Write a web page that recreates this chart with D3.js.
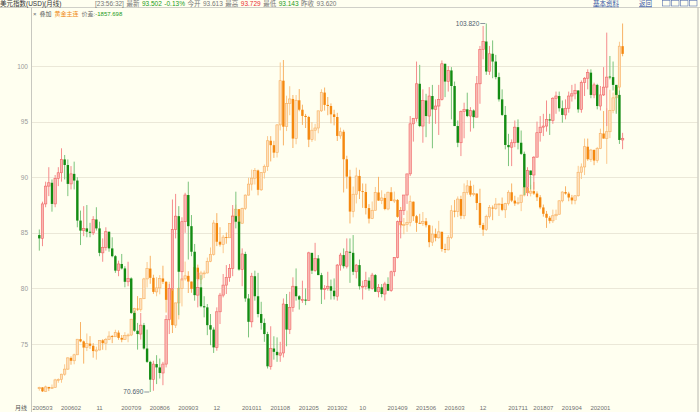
<!DOCTYPE html>
<html><head><meta charset="utf-8">
<script src="https://cdn.jsdelivr.net/npm/d3@7/dist/d3.min.js"></script>
<style>
html,body{margin:0;padding:0;background:#fffff0;}
svg{display:block;font-family:"Liberation Sans","Noto Sans CJK SC",sans-serif;}
</style></head><body>
<svg id="chart" width="700" height="412"></svg>
<script>
// ---- US Dollar Index monthly candles, 2005-04 .. 2020-08 ----
const usdO = [84.8,84.5,87.6,89.2,89.5,87.6,89.9,90.4,91.6,
91.1,89.4,90.3,89.7,86.1,85.2,85.4,85.1,85.0,86.2,85.4,83.2,
83.7,85.1,83.6,82.9,81.6,82.2,81.8,80.6,80.9,77.8,76.2,75.9,
76.7,74.6,73.4,71.8,73.2,72.9,72.4,73.2,77.2,80.0,85.3,86.5,
81.5,86.0,88.4,85.6,83.3,79.4,80.1,78.4,78.3,76.7,76.3,74.7,
77.9,79.4,80.3,81.0,81.8,86.5,86.0,81.7,83.1,79.1,77.0,81.1,
79.3,77.7,76.9,75.9,73.0,74.6,74.3,74.0,74.2,78.6,76.3,78.3,
80.2,79.3,79.0,79.0,78.9,83.2,81.6,82.7,81.2,79.9,80.0,80.2,
79.8,79.3,82.1,83.0,82.0,83.3,83.2,81.5,82.1,80.2,80.2,80.7,
80.0,81.2,79.7,80.1,79.5,80.4,79.8,81.5,82.8,86.0,87.0,88.4,
90.3,94.8,95.3,98.4,94.6,96.9,95.5,97.3,96.1,96.4,97.0,100.2,
98.6,99.6,98.2,94.6,93.1,95.9,96.1,95.5,96.0,95.4,98.4,101.5,
102.2,99.5,101.1,100.4,99.0,97.0,95.6,92.9,92.7,93.1,94.5,93.1,
92.1,89.1,90.6,90.2,91.8,94.0,94.5,94.6,95.2,95.1,97.1,97.3,
96.2,95.6,96.2,97.3,97.5,97.8,96.1,98.5,98.9,99.4,97.4,98.3,
96.4,97.4,98.1,99.05,99.0,98.3,97.4,93.35];
const usdH = [85.3,87.8,89.6,90.9,89.8,90.2,90.9,92.6,92.0,
91.6,91.0,91.4,90.0,87.0,87.4,87.5,85.9,86.5,87.3,86.0,84.5,
85.5,85.1,84.6,83.0,82.5,83.1,82.0,82.4,81.0,78.0,76.9,77.8,
76.9,76.3,73.5,73.5,74.0,73.7,73.4,77.6,80.4,88.0,88.5,87.4,
86.4,88.6,89.6,86.6,84.0,81.5,81.2,79.3,78.6,77.7,76.5,78.3,
79.6,81.3,82.1,82.2,87.5,88.7,86.5,83.6,83.3,79.5,81.4,81.6,
81.4,78.8,77.3,76.1,76.6,75.7,75.6,75.2,79.1,79.5,79.7,81.0,
81.8,79.4,80.7,80.0,83.3,83.2,84.1,83.0,81.4,80.3,81.5,80.8,
80.9,82.2,83.2,83.6,84.5,84.5,84.8,82.2,82.6,80.7,81.5,81.0,
81.4,81.3,80.4,80.4,80.6,81.0,81.6,82.8,86.1,87.0,88.4,90.3,
95.5,95.3,100.4,100.1,97.9,97.5,98.1,98.3,97.0,98.3,100.5,100.2,
100.0,99.9,98.6,95.1,96.0,96.7,97.6,96.3,96.1,99.1,101.8,103.6,
103.82,101.8,102.3,101.0,99.4,97.9,96.4,93.9,93.4,95.1,95.2,94.2,
92.3,90.9,90.6,91.9,95.0,95.5,95.7,96.9,95.7,97.2,97.7,97.7,
96.9,97.0,97.7,98.3,98.4,97.8,98.7,99.0,99.7,99.7,98.5,98.4,
98.2,99.9,103.0,100.9,100.4,98.3,97.8,93.99];
const usdL = [83.4,83.8,87.3,88.3,86.9,87.3,89.2,89.6,89.8,
88.3,88.9,88.9,85.5,83.9,84.7,84.6,84.6,84.8,85.2,82.9,82.4,
83.4,83.3,82.8,81.4,81.1,81.7,80.1,80.2,77.7,76.1,74.5,75.4,
74.5,73.3,70.69,70.8,71.4,71.9,71.3,72.9,75.9,79.8,84.5,77.6,
80.7,85.0,82.6,82.9,78.9,78.3,78.3,77.4,75.8,74.9,74.2,74.4,
76.8,79.2,79.5,80.6,81.1,85.4,81.6,80.2,78.8,75.6,76.5,78.9,
77.4,76.3,75.2,72.8,72.7,73.6,73.4,73.4,73.8,74.8,75.9,77.9,
78.9,78.1,78.7,78.5,78.9,81.3,81.5,81.2,78.6,79.0,79.8,79.0,
79.0,78.9,81.6,81.8,81.8,80.5,81.2,80.9,79.9,79.0,79.9,79.8,
79.9,79.7,79.2,79.2,78.9,79.8,79.7,81.1,82.7,84.5,86.6,87.6,
90.1,93.2,95.0,94.5,93.1,93.6,94.8,92.6,94.8,93.8,96.9,97.2,
97.7,95.2,94.6,92.7,91.9,93.5,95.4,94.1,94.4,95.4,96.6,100.6,
99.2,99.2,98.9,98.8,96.8,95.5,92.5,91.0,91.0,92.7,92.5,92.0,
88.4,88.3,88.9,88.9,91.8,93.2,93.7,94.1,93.8,94.8,95.7,95.9,
94.9,95.2,95.8,96.8,97.0,95.8,95.8,97.3,97.9,97.1,97.1,96.1,
96.0,97.3,94.6,98.8,97.8,95.7,92.99,92.52];
const usdC = [84.5,87.6,89.2,89.5,87.6,89.9,90.4,91.6,91.1,
89.4,90.3,89.7,86.1,85.2,85.4,85.1,85.0,86.2,85.4,83.2,83.7,
85.1,83.6,82.9,81.6,82.2,81.8,80.6,80.9,77.8,76.2,75.9,76.7,
74.6,73.4,71.8,73.2,72.9,72.4,73.2,77.2,80.0,85.3,86.5,81.5,
86.0,88.4,85.6,83.3,79.4,80.1,78.4,78.3,76.7,76.3,74.7,77.9,
79.4,80.3,81.0,81.8,86.5,86.0,81.7,83.1,79.1,77.0,81.1,79.3,
77.7,76.9,75.9,73.0,74.6,74.3,74.0,74.2,78.6,76.3,78.3,80.2,
79.3,79.0,79.0,78.9,83.2,81.6,82.7,81.2,79.9,80.0,80.2,79.8,
79.3,82.1,83.0,82.0,83.3,83.2,81.5,82.1,80.2,80.2,80.7,80.0,
81.2,79.7,80.1,79.5,80.4,79.8,81.5,82.8,86.0,87.0,88.4,90.3,
94.8,95.3,98.4,94.6,96.9,95.5,97.3,96.1,96.4,97.0,100.2,98.6,
99.6,98.2,94.6,93.1,95.9,96.1,95.5,96.0,95.4,98.4,101.5,102.2,
99.5,101.1,100.4,99.0,97.0,95.6,92.9,92.7,93.1,94.5,93.1,92.1,
89.1,90.6,90.2,91.8,94.0,94.5,94.6,95.2,95.1,97.1,97.3,96.2,
95.6,96.2,97.3,97.5,97.8,96.1,98.5,98.9,99.4,97.4,98.3,96.4,
97.4,98.1,99.0,99.0,98.3,97.4,93.35,93.50];

// ---- Overlay: 黄金主连 (gold, USD/oz) monthly candles ----
const goldO = [429,435,417,437,430,435,469,471,495,
518,569,556,583,654,644,616,634,624,600,605,649,
636,653,668,665,684,660,652,671,673,745,793,790,
838,928,975,933,869,887,930,915,833,884,718,819,
884,928,942,916,883,979,927,955,955,1008,1040,1182,
1097,1084,1118,1115,1180,1214,1245,1181,1248,1309,1359,1386,
1421,1333,1411,1439,1556,1536,1502,1628,1829,1620,1725,1746,
1566,1740,1697,1669,1664,1561,1604,1614,1692,1775,1719,1714,
1676,1664,1578,1597,1472,1393,1234,1313,1396,1327,1323,1250,
1202,1240,1321,1284,1296,1246,1322,1282,1287,1210,1172,1175,
1184,1279,1213,1183,1180,1190,1172,1095,1132,1115,1142,1064,
1060,1116,1238,1234,1291,1215,1321,1351,1311,1316,1273,1173,
1152,1211,1252,1248,1268,1269,1242,1270,1322,1284,1271,1275,
1309,1343,1318,1327,1316,1299,1253,1224,1206,1192,1215,1222,
1283,1323,1316,1298,1285,1306,1413,1437,1529,1472,1514,1466,
1520,1589,1566,1597,1694,1751,1800,1986];
const goldH = [438,436,443,437,448,474,476,497,540,
572,576,588,655,732,648,680,668,636,620,650,654,
660,690,673,697,694,673,686,680,746,797,850,840,
933,1005,1033,947,936,945,988,917,915,934,820,890,
931,1007,963,916,984,993,965,966,1025,1071,1195,1227,
1163,1128,1139,1181,1249,1266,1246,1252,1312,1388,1425,1432,
1425,1414,1448,1577,1577,1556,1632,1912,1923,1761,1804,1764,
1764,1791,1720,1678,1669,1641,1633,1692,1790,1798,1755,1726,
1697,1683,1616,1606,1488,1424,1348,1434,1424,1362,1361,1268,
1280,1346,1392,1331,1315,1325,1345,1325,1291,1255,1205,1239,
1307,1280,1219,1224,1232,1205,1174,1170,1157,1192,1143,1088,
1127,1263,1287,1303,1306,1362,1377,1375,1356,1317,1338,1183,
1220,1264,1262,1296,1270,1298,1274,1331,1362,1306,1299,1310,
1366,1362,1356,1369,1326,1309,1266,1237,1214,1243,1243,1285,
1326,1349,1324,1310,1306,1442,1453,1566,1566,1519,1517,1528,
1611,1691,1704,1788,1775,1800,2006,2089];
const goldL = [420,414,415,418,429,434,456,456,488,
514,538,540,582,640,543,600,610,570,561,603,606,
604,650,636,664,651,640,651,640,668,725,783,779,
836,889,906,860,849,858,905,775,736,682,705,744,
803,920,864,865,880,920,904,932,953,1004,1034,1077,
1075,1045,1088,1114,1160,1199,1155,1180,1241,1307,1330,1357,
1308,1328,1384,1419,1462,1478,1480,1603,1535,1600,1672,1523,
1540,1690,1628,1614,1527,1551,1556,1590,1687,1693,1672,1635,
1626,1555,1565,1321,1338,1180,1208,1271,1291,1251,1221,1180,
1200,1240,1283,1268,1240,1240,1282,1273,1206,1161,1131,1142,
1167,1191,1142,1178,1169,1162,1072,1078,1099,1111,1052,1046,
1058,1109,1208,1209,1200,1200,1311,1302,1304,1241,1160,1124,
1146,1203,1195,1242,1214,1236,1205,1262,1277,1260,1265,1236,
1303,1307,1303,1310,1282,1245,1211,1160,1180,1182,1196,1221,
1276,1311,1281,1267,1267,1302,1382,1400,1465,1460,1445,1456,
1518,1566,1451,1568,1681,1685,1766,1940];
const goldC = [435,417,437,430,435,469,471,495,518,
569,556,583,654,644,616,634,624,600,605,649,636,
653,668,665,684,660,652,671,673,745,793,790,838,
928,975,933,869,887,930,915,833,884,718,819,884,
928,942,916,883,979,927,955,955,1008,1040,1182,1097,
1084,1118,1115,1180,1214,1245,1181,1248,1309,1359,1386,1421,
1333,1411,1439,1556,1536,1502,1628,1829,1620,1725,1746,1566,
1740,1697,1669,1664,1561,1604,1614,1692,1775,1719,1714,1676,
1664,1578,1597,1472,1393,1234,1313,1396,1327,1323,1250,1202,
1240,1321,1284,1296,1246,1322,1282,1287,1210,1172,1175,1184,
1279,1213,1183,1180,1190,1172,1095,1132,1115,1142,1064,1060,
1116,1238,1234,1291,1215,1321,1351,1311,1316,1273,1173,1152,
1211,1252,1248,1268,1269,1242,1270,1322,1284,1271,1275,1309,
1343,1318,1327,1316,1299,1253,1224,1206,1192,1215,1222,1283,
1323,1316,1298,1285,1306,1413,1437,1529,1472,1514,1466,1520,
1589,1566,1597,1694,1751,1800,1986,1951];

// ---- axis labels ----
const yTicks = [75, 80, 85, 90, 95, 100];
const tickMonths = ["2005-03","2006-02","2006-11","2007-09","2008-06","2009-03","2009-12","2010-11","2011-08","2012-05","2013-02","2013-10","2014-09","2015-06","2016-03","2016-12","2017-11","2018-07","2019-04","2020-01"];
const tickLabels = ["200503","200602","11","200709","200806","200903","12","201011","201108","201205","201302","10","201409","201506","201603","12","201711","201807","201904","202001"];

// ---- header texts ----
const quoteItems = [
  {t:"[23:56:32]", c:"#777"},
  {t:"最新", c:"#777"}, {t:"93.502", c:"#1a9a1a"}, {t:"-0.13%", c:"#1a9a1a"},
  {t:"今开", c:"#777"}, {t:"93.613", c:"#777"},
  {t:"最高", c:"#777"}, {t:"93.729", c:"#e83030"},
  {t:"最低", c:"#777"}, {t:"93.143", c:"#1a9a1a"},
  {t:"昨收", c:"#777"}, {t:"93.620", c:"#777"}
];

const svg = d3.select("#chart");
const W = 700, H = 412;
const months = d3.timeMonth.range(new Date(2005,3,1), new Date(2020,8,1)).map(d3.timeFormat("%Y-%m"));
const plotL = 31.5, plotR = 697.5, topLine = 7.5;

const x = d3.scalePoint().domain(months).range([39.3, 622.6]);
const y = d3.scaleLinear().domain([d3.min(usdL), d3.max(usdH)]).range([392, 23.5]);
const yg = d3.scaleLinear().domain([d3.min(goldL), d3.max(goldH)]).range([392, 23.5]);

const usd = months.map((m,i)=>({m,o:usdO[i],h:usdH[i],l:usdL[i],c:usdC[i]}));
const gold = months.map((m,i)=>({m,o:goldO[i],h:goldH[i],l:goldL[i],c:goldC[i]}));

svg.append("rect").attr("width",W).attr("height",H).attr("fill","#fffff0");

// grid
svg.append("g").selectAll("line").data(yTicks).join("line")
  .attr("x1",plotL).attr("x2",plotR)
  .attr("y1",d=>Math.round(y(d))+0.5).attr("y2",d=>Math.round(y(d))+0.5)
  .attr("stroke","#ebe8d8").attr("stroke-width",1);

// y axis labels
const yAxis = d3.axisLeft(y).tickValues(yTicks).tickSize(0).tickPadding(3).tickFormat(d3.format("d"));
const ya = svg.append("g").attr("transform",`translate(${plotL-0.5},0)`).call(yAxis);
ya.select(".domain").remove();
ya.selectAll("text").attr("fill","#9a9a9a").attr("font-size","6.5px").attr("font-family","Liberation Sans, sans-serif");

// frame lines
svg.append("line").attr("x1",0).attr("x2",W).attr("y1",topLine).attr("y2",topLine).attr("stroke","#d0d0c8");
svg.append("line").attr("x1",plotL).attr("x2",plotL).attr("y1",topLine).attr("y2",H).attr("stroke","#c8c8c0");
svg.append("line").attr("x1",plotR+0.5).attr("x2",plotR+0.5).attr("y1",topLine).attr("y2",H).attr("stroke","#b8b8b0");

function drawCandles(data, ys, st){
  const g = svg.append("g");
  const bw = 2.4;
  g.selectAll("line").data(data).join("line")
    .attr("x1",d=>x(d.m)).attr("x2",d=>x(d.m))
    .attr("y1",d=>ys(d.h)).attr("y2",d=>ys(d.l))
    .attr("stroke",d=>d.c>=d.o?st.upWick:st.downWick).attr("stroke-width",1);
  g.selectAll("rect").data(data).join("rect")
    .attr("x",d=>x(d.m)-bw/2).attr("width",bw)
    .attr("y",d=>Math.min(ys(d.o),ys(d.c)))
    .attr("height",d=>Math.max(0.9,Math.abs(ys(d.o)-ys(d.c))))
    .attr("fill",d=>d.c>=d.o?st.upFill:st.downFill)
    .attr("stroke",d=>d.c>=d.o?st.upStroke:"none")
    .attr("stroke-width",0.6);
}
drawCandles(gold, yg, {upWick:"#fbc98e",downWick:"#f8b265",upFill:"#fde0bd",upStroke:"#f8b060",downFill:"#f5880f"});
drawCandles(usd, y, {upWick:"#f58c8c",downWick:"#7cc47c",upFill:"#f9b8b3",upStroke:"#f06464",downFill:"#138c13"});

// extreme labels
const iMax = d3.maxIndex(usdH), iMin = d3.minIndex(usdL);
[[iMax, usdH[iMax], y(usdH[iMax])],[iMin, usdL[iMin], y(usdL[iMin])]].forEach(([i,v,yy])=>{
  const cx = x(months[i]);
  svg.append("line").attr("x1",cx-6).attr("x2",cx-1).attr("y1",yy).attr("y2",yy).attr("stroke","#5a6a7a").attr("stroke-width",0.7);
  svg.append("text").attr("x",cx-7).attr("y",yy+2.2).attr("text-anchor","end")
    .attr("font-size","6.5px").attr("fill","#4d5d6d").text(d3.format(".3f")(v));
});

// x axis labels
const xl = svg.append("g").attr("font-size","6px").attr("fill","#707070");
xl.append("text").attr("x",15).attr("y",410).attr("fill","#555").text("月线");
tickMonths.forEach((m,i)=>{
  const inDomain = months.includes(m);
  xl.append("text").attr("x", inDomain ? x(m) : plotL+1).attr("y",410)
    .attr("text-anchor", inDomain ? "middle" : "start").text(tickLabels[i]);
});

// header row 1
const h1 = svg.append("g").attr("font-size","6.5px");
h1.append("text").attr("x",0).attr("y",5.5).attr("fill","#333").text("美元指数(USD)(月线)");
let hx = 95;
quoteItems.forEach(q=>{
  const t = h1.append("text").attr("x",hx).attr("y",5.5).attr("fill",q.c).text(q.t);
  hx += t.node().getComputedTextLength() + 2.5;
});
const links = [{t:"基本资料", x:593},{t:"返回", x:639}];
links.forEach(l=>{
  const t = h1.append("text").attr("x",l.x).attr("y",5.5).attr("fill","#3a5aa8").text(l.t);
  const w = t.node().getComputedTextLength();
  h1.append("line").attr("x1",l.x).attr("x2",l.x+w).attr("y1",6.8).attr("y2",6.8).attr("stroke","#3a5aa8").attr("stroke-width",0.5);
});
[662,671,680,689].forEach(ix=>{
  h1.append("rect").attr("x",ix+0.5).attr("y",0.5).attr("width",7.5).attr("height",5.5).attr("fill","none").attr("stroke","#5570b0").attr("stroke-width",0.6);
});

// header row 2
const h2 = svg.append("g").attr("font-size","6px");
let x2 = 33;
[{t:"×",c:"#666"},{t:"叠加",c:"#555"},{t:"黄金主连",c:"#f08a10"},{t:"价差:",c:"#777"},{t:"-1857.698",c:"#1a9a1a"}].forEach((q,i)=>{
  const t = h2.append("text").attr("x",x2).attr("y",15.5).attr("fill",q.c).text(q.t);
  x2 += t.node().getComputedTextLength() + (i===3?0:3);
});
</script></body></html>
